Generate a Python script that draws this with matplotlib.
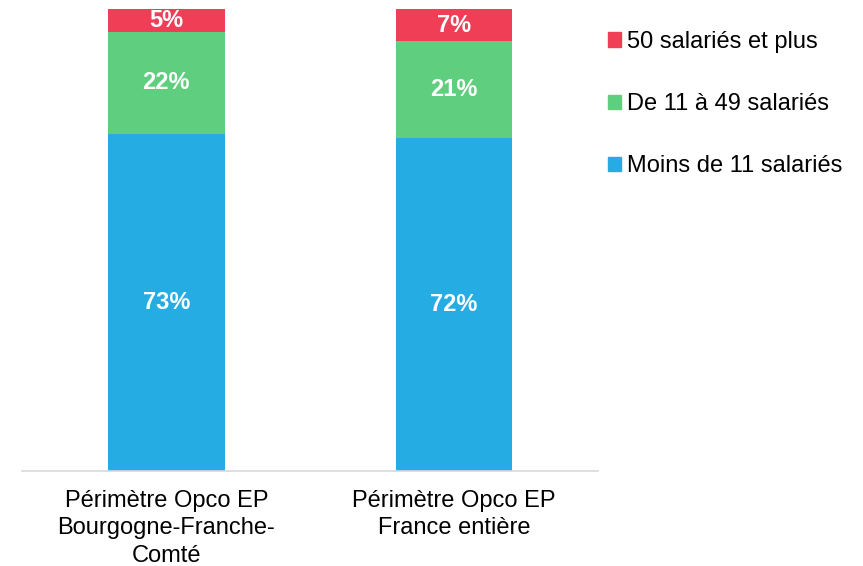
import matplotlib.pyplot as plt
from matplotlib.patches import Patch

plt.rcParams['font.family'] = ['Liberation Sans', 'DejaVu Sans']

categories = ["Périmètre Opco EP\nBourgogne-Franche-\nComté", "Périmètre Opco EP\nFrance entière"]
moins_11 = [73, 72]
de_11_49 = [22, 21]
plus_50 = [5, 7]

series = [
    ("Moins de 11 salariés", moins_11, "#25ADE3"),
    ("De 11 à 49 salariés", de_11_49, "#5FCE7E"),
    ("50 salariés et plus", plus_50, "#EF3E56"),
]

fig = plt.figure(figsize=(8.63, 5.66), dpi=100)
ax = fig.add_axes([0.026, 0.168, 0.667, 0.816])

x = range(len(categories))
bottoms = [0, 0]
for name, vals, color in series:
    bars = ax.bar(x, vals, bottom=bottoms, width=0.405, color=color, label=name)
    for xi, v, b in zip(x, vals, bottoms):
        ax.text(xi, b + v / 2, f"{v}%", ha='center', va='center',
                color='white', fontsize=17, fontweight='bold')
    bottoms = [b + v for b, v in zip(bottoms, vals)]

ax.set_xlim(-0.5, 1.5)
ax.set_ylim(0, 100)
ax.set_xticks(list(x))
ax.set_xticklabels(categories, fontsize=17, linespacing=1.3)
ax.tick_params(axis='x', length=0, pad=14)
ax.set_yticks([])
for side in ['top', 'left', 'right']:
    ax.spines[side].set_visible(False)
ax.spines['bottom'].set_color('#D9D9D9')
ax.spines['bottom'].set_linewidth(1.2)

handles = [Patch(color=c, label=n) for n, _, c in series][::-1]
fig.legend(handles=handles, loc='upper left', bbox_to_anchor=(0.68, 0.983),
           frameon=False, fontsize=17, handlelength=0.55, handleheight=0.55,
           handletextpad=0.25, labelspacing=1.7)

fig.savefig("out.png", dpi=100)
